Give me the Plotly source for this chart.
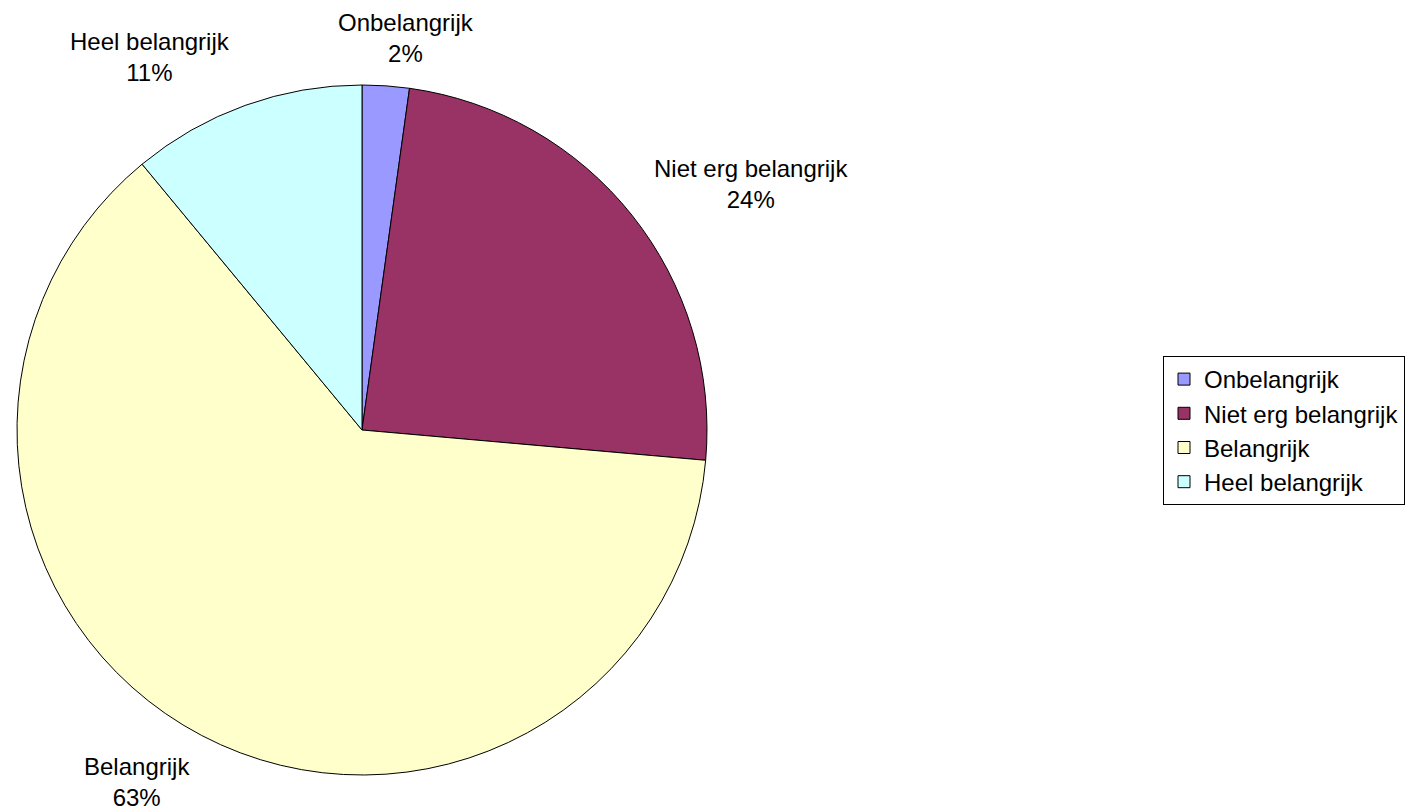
import plotly.graph_objects as go

labels = ["Onbelangrijk", "Niet erg belangrijk", "Belangrijk", "Heel belangrijk"]
values = [2.2, 24.2, 62.6, 11.0]
colors = ["#9999FF", "#993366", "#FFFFCC", "#CCFFFF"]

# label anchor positions (paper coords) for the outside labels
label_pos = [(0.288, 0.953), (0.5323, 0.7734), (0.0972, 0.0369), (0.1064, 0.9298)]

FONT = "Liberation Sans, Arial, sans-serif"
W, H = 1410, 812

total = sum(values)
pct = [round(v / total * 100) for v in values]

fig = go.Figure(go.Pie(
    labels=labels,
    values=values,
    sort=False,
    direction="clockwise",
    rotation=0,
    marker=dict(colors=colors, line=dict(color="black", width=1)),
    textinfo="none",
    hoverinfo="label+percent",
    domain=dict(x=[17 / W, 707 / W], y=[1 - 775 / H, 1 - 85 / H]),
))

for lab, p, (x, y) in zip(labels, pct, label_pos):
    fig.add_annotation(
        x=x, y=y, xref="paper", yref="paper",
        text=f"{lab}<br>{p}%", showarrow=False,
        xanchor="center", yanchor="middle",
        font=dict(family=FONT, size=24, color="black"),
    )

fig.update_layout(
    width=W, height=H,
    margin=dict(l=0, r=0, t=0, b=0),
    paper_bgcolor="white",
    plot_bgcolor="white",
    font=dict(family=FONT, size=24, color="black"),
    legend=dict(
        x=1163 / W, y=1 - 356 / H, xanchor="left", yanchor="top",
        bordercolor="black", borderwidth=1, bgcolor="white",
        font=dict(family=FONT, size=24, color="black"),
        tracegroupgap=0,
    ),
)

fig.write_html(
    "out.html",
    config={"displayModeBar": False},
    post_script="document.body.style.margin='0';document.body.style.overflow='hidden';",
)
